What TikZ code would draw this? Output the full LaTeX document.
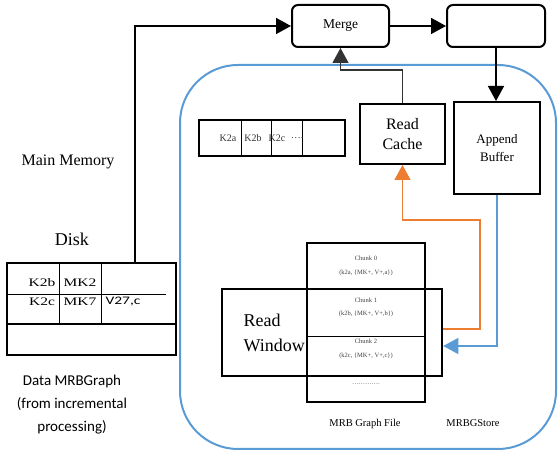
\documentclass[tikz,border=0pt]{standalone}
\usepackage{fontspec}
\setmainfont{Liberation Serif}
\newfontfamily\calibri{Carlito}
\usepackage{tikz}
\usetikzlibrary{calc, arrows.meta, positioning}
\definecolor{storeblue}{HTML}{5B9BD5}
\definecolor{readorange}{HTML}{ED7D31}
\newcommand{\widecell}[1]{\scalebox{1.35}[1]{#1}}

\begin{document}
\begin{tikzpicture}[
        x=1pt, y=1pt,
        box/.style = {draw, rectangle, line width=2pt, inner sep=0pt, align=center},
        ctrl/.style = {box, rounded corners=6pt, minimum width=97pt, minimum height=42pt, font=\fontsize{13.5}{16}\selectfont},
        cell/.style = {font=\fontsize{11.5}{13}\selectfont},
        keytext/.style = {font=\fontsize{10}{12}\selectfont, text=black!80},
        chunktext/.style = {font=\fontsize{6.5}{8}\selectfont, text=black!75},
        filelabel/.style = {font=\fontsize{10.5}{12}\selectfont},
        arrow/.style = {draw=black, line width=1.6pt, -{Triangle[length=15pt, width=16pt]}},
        readpath/.style = {draw=readorange, line width=1.3pt, -{Triangle[length=15pt, width=16pt]}},
        writepath/.style = {draw=storeblue, line width=1.3pt, -{Triangle[length=15pt, width=16pt]}}
    ]
        \useasboundingbox (0,0) rectangle (558,454);

        % Merge and output
        \node (merge) [ctrl] at (340.5,428) {Merge};
        \node (out) [ctrl, minimum width=98pt] at (496,428) {};

        % MRBGStore
        \node (store) [draw=storeblue, line width=2pt, rounded corners=58pt, minimum width=376pt, minimum height=384pt] at (368,197) {};
        \node (cache) [box, minimum width=85pt, minimum height=60pt, font=\fontsize{16}{20}\selectfont] at (402.5,320) {Read\\Cache};
        \node (buffer) [box, minimum width=86pt, minimum height=92pt, font=\fontsize{13}{18}\selectfont] at (497,306) {Append\\Buffer};

        % Key index row
        \node (keys) [box, minimum width=146pt, minimum height=36pt] at (272,316) {};
        \foreach \dx in {43,73,104}
            \draw [line width=1pt] ([xshift=\dx pt]keys.north west) -- ([xshift=\dx pt]keys.south west);
        \node (k2a) [keytext] at (228,316) {K2a};
        \node (k2b) [keytext] at (253,316) {K2b};
        \node (k2c) [keytext] at (277,316) {K2c};
        \node (kdots) [keytext] at (297,316) {\ldots.};

        % MRB Graph File chunks
        \node (file) [box, line width=2.3pt, minimum width=118pt, minimum height=159pt] at (366,131.5) {};
        \coordinate (split) at (0,117);
        \draw [line width=1pt] (file.west |- split) -- (file.east |- split);
        \node (chunk0) [chunktext] at (366,196) {Chunk 0};
        \node (entry0) [chunktext] at (366,181) {(k2a, \{MK+, V+,a\})};
        \node (chunk1) [chunktext] at (366,154) {Chunk 1};
        \node (entry1) [chunktext] at (366,140) {(k2b, \{MK+, V+,b\})};
        \node (chunk2) [chunktext] at (366,113) {Chunk 2};
        \node (entry2) [chunktext] at (366,98) {(k2c, \{MK+, V+,c\})};
        \node (rest) [chunktext] at (366,70) {\ldots\ldots\ldots\ldots.};

        % Read window over the chunks
        \node (window) [box, line width=2.5pt, minimum width=220pt, minimum height=87pt] at (332,121.5) {};
        \node (windowtext) [anchor=west, align=left, font=\fontsize{18}{25}\selectfont] at (240,121.5) {Read\\Window};

        \node (filename) [filelabel] at (365,30) {MRB Graph File};
        \node (storename) [filelabel] at (473,31) {MRBGStore};

        % Disk table
        \node (disk) [box, minimum width=169pt, minimum height=92pt] at (91.5,145) {};
        \draw [line width=2pt] ([yshift=32pt]disk.south west) -- ([yshift=32pt]disk.south east);
        \draw [line width=1pt] ([yshift=61pt]disk.south west) -- ([yshift=61pt, xshift=-11pt]disk.south east);
        \foreach \dx in {53,95}
            \draw [line width=1pt] ([xshift=\dx pt]disk.north west) -- ([xshift=\dx pt, yshift=32pt]disk.south west);
        \node (c1) [cell] at (42,171) {\widecell{K2b}};
        \node (c2) [cell] at (80,171) {\widecell{MK2}};
        \node (c3) [cell] at (42,152) {\widecell{K2c}};
        \node (c4) [cell] at (80,152) {\widecell{MK7}};
        \node (c5) [cell, font=\calibri\fontsize{11.5}{13}\selectfont] at (123,152) {\widecell{V27,c}};

        % Labels on the left
        \node (mainmem) [font=\fontsize{16}{19}\selectfont] at (68,292) {Main Memory};
        \node (disklabel) [font=\fontsize{18}{21}\selectfont] at (72,215) {Disk};
        \node (datalabel) [font=\calibri\fontsize{15}{23}\selectfont, align=center] at (72,49) {Data MRBGraph\\(from incremental\\processing)};

        % Arrows
        \draw [arrow] ([xshift=43.5pt]disk.north) |- (merge.west);
        \draw [arrow] (merge) -- (out);
        \draw [arrow] (out.south) -- (out.south |- buffer.north);
        \draw [arrow, line width=1.2pt, draw=black!80] (cache.north) -- ++(0,33) -| (merge.south);

        \coordinate (orangeturn) at (480,234);
        \draw [readpath] ([yshift=3.5pt]window.east) -| (orangeturn) -| (cache.south);
        \draw [writepath] (buffer.south) |- ([yshift=-13.5pt]window.east);

    \end{tikzpicture}
\end{document}
